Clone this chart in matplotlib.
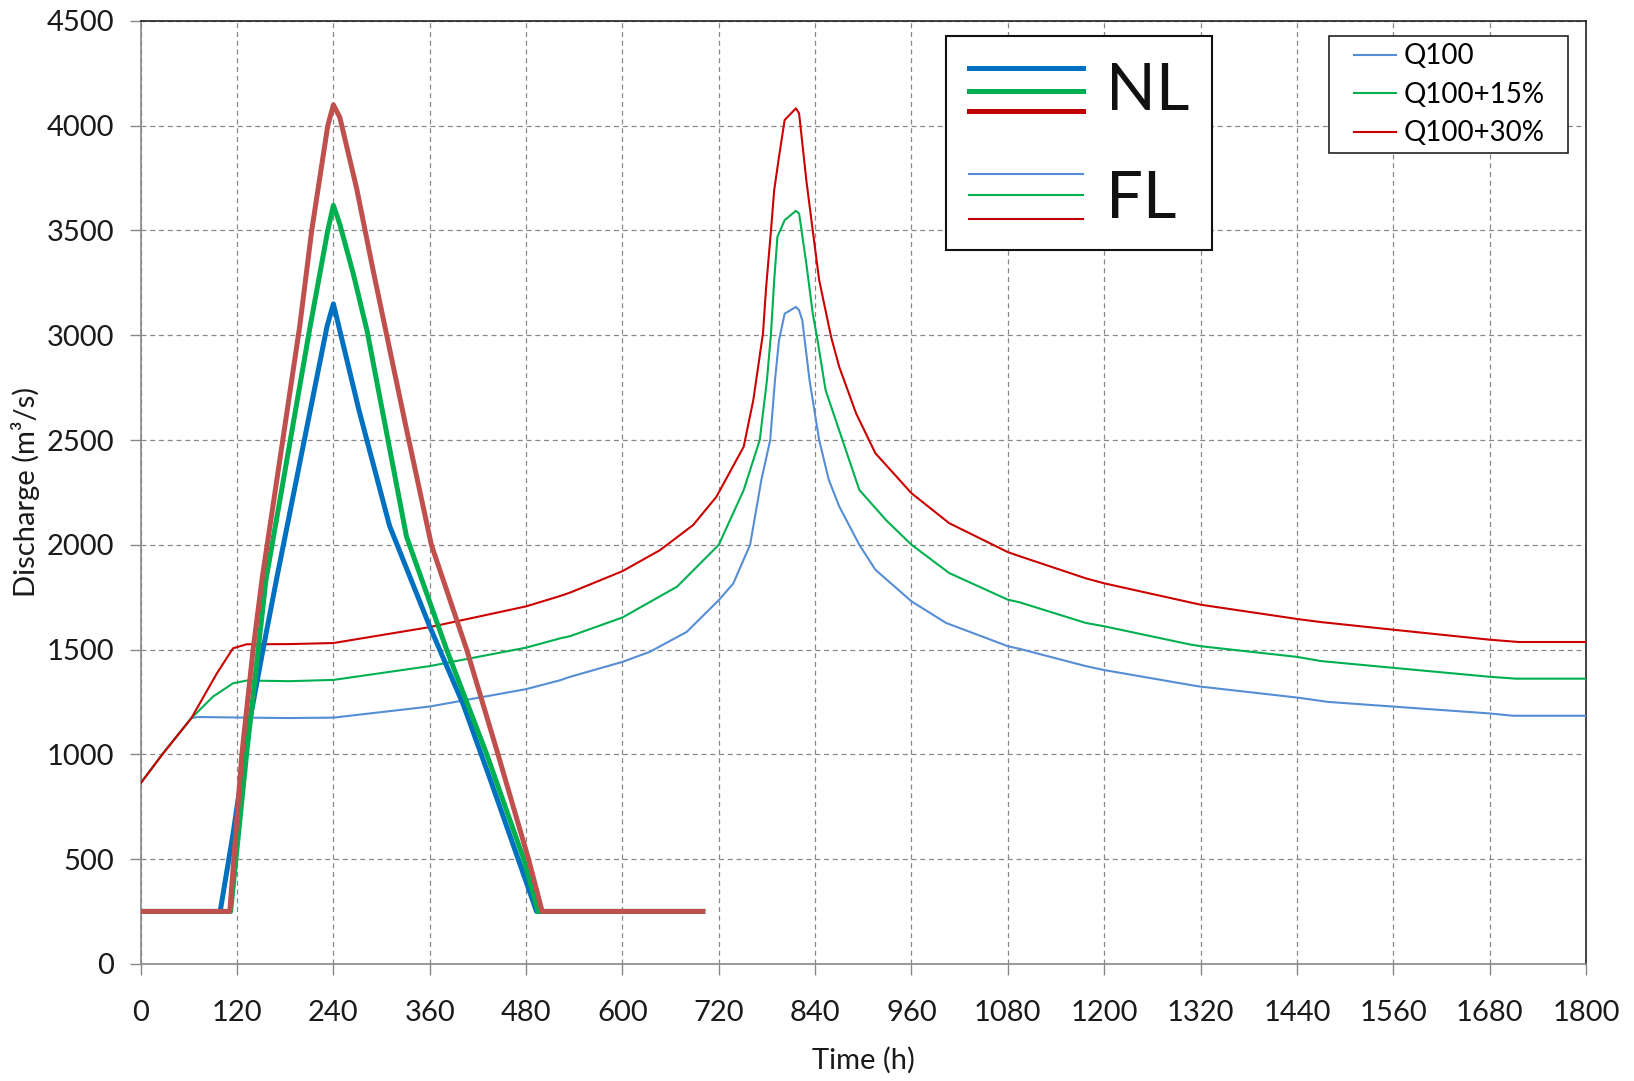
import matplotlib
matplotlib.use("Agg")
import matplotlib.pyplot as plt
from matplotlib.patches import Rectangle
from matplotlib.lines import Line2D
from matplotlib.legend_handler import HandlerLine2D
import numpy as np

plt.rcParams['font.family'] = ['Lato', 'DejaVu Sans']

# NL hydrographs (thick lines)
t_nl_q100 = [0, 99, 115, 136, 153, 169, 232, 240, 272, 310, 360, 402, 435, 493, 700]
q_nl_q100 = [250, 250, 620, 1163, 1513, 1832, 3041, 3150, 2640, 2090, 1610, 1235, 884, 250, 250]

t_nl_q115 = [0, 112, 132, 156, 211, 233, 240, 248, 265, 282, 305, 331, 381, 431, 477, 495, 700]
q_nl_q115 = [250, 250, 1005, 1832, 3041, 3500, 3620, 3530, 3290, 3020, 2560, 2040, 1500, 1000, 500, 250, 250]

t_nl_q130 = [0, 111, 126, 140, 151, 198, 213, 233, 240, 248, 269, 290, 330, 362, 406, 445, 483, 500, 700]
q_nl_q130 = [250, 250, 1000, 1500, 1832, 3041, 3500, 4000, 4100, 4040, 3700, 3300, 2570, 2000, 1500, 1000, 500, 250, 250]

# FL hydrographs (thin lines)
t_fl_q100 = [0, 28, 63, 71, 132, 185, 240, 360, 480, 522, 535, 600, 634, 680, 720, 738, 759, 773, 784, 790,
             795, 802, 816, 820, 824, 833, 845, 857, 870, 895, 915, 960, 1003, 1080, 1095, 1177, 1200, 1307,
             1320, 1440, 1479, 1559, 1680, 1709, 1800]
q_fl_q100 = [862, 1005, 1172, 1178, 1175, 1173, 1175, 1228, 1311, 1353, 1370, 1441, 1489, 1584, 1736, 1815, 2000,
             2309, 2500, 2787, 2976, 3103, 3135, 3120, 3071, 2786, 2500, 2310, 2183, 2000, 1881, 1730, 1627,
             1516, 1503, 1421, 1402, 1331, 1323, 1271, 1250, 1228, 1195, 1184, 1184]

t_fl_q115 = [0, 28, 63, 90, 115, 132, 185, 240, 360, 480, 522, 535, 600, 668, 720, 751, 771, 780, 785, 789,
             793, 802, 816, 820, 829, 837, 843, 853, 874, 895, 928, 960, 1007, 1080, 1095, 1177, 1200, 1307,
             1320, 1440, 1470, 1559, 1680, 1713, 1800]
q_fl_q115 = [862, 1005, 1172, 1275, 1339, 1352, 1349, 1355, 1421, 1509, 1553, 1564, 1653, 1800, 2000, 2261,
             2500, 2787, 3008, 3263, 3470, 3549, 3594, 3581, 3342, 3104, 2976, 2738, 2500, 2262, 2119, 2000,
             1865, 1738, 1725, 1627, 1611, 1524, 1516, 1465, 1445, 1413, 1370, 1361, 1361]

t_fl_q130 = [0, 28, 63, 95, 115, 132, 185, 240, 360, 480, 522, 535, 600, 647, 688, 717, 751, 763, 775, 779,
             785, 789, 795, 802, 816, 820, 829, 837, 845, 860, 870, 891, 915, 960, 1007, 1080, 1095, 1177,
             1200, 1307, 1320, 1440, 1470, 1559, 1680, 1716, 1800]
q_fl_q130 = [862, 1005, 1172, 1387, 1506, 1525, 1526, 1531, 1607, 1706, 1755, 1772, 1874, 1975, 2094, 2229,
             2468, 2691, 3008, 3231, 3500, 3693, 3852, 4027, 4083, 4059, 3740, 3500, 3263, 2990, 2849, 2627,
             2437, 2246, 2103, 1965, 1945, 1840, 1816, 1725, 1714, 1646, 1631, 1595, 1547, 1536, 1536]

labels = ["Q100", "Q100+15%", "Q100+30%"]
x_ticks = list(range(0, 1801, 120))
y_ticks = list(range(0, 4501, 500))

c_blue_nl, c_green_nl, c_red_nl, c_red_box = "#0070C0", "#00B050", "#C0504D", "#C00000"
c_blue_fl, c_green_fl, c_red_fl = "#558ED5", "#00B050", "#CC0000"


class ShortLine(HandlerLine2D):
    # legend line drawn only on the right part of the handle box
    def create_artists(self, legend, orig_handle, xdescent, ydescent, width, height, fontsize, trans):
        arts = super().create_artists(legend, orig_handle, xdescent, ydescent, width, height, fontsize, trans)
        xd = np.asarray(arts[0].get_xdata(), dtype=float)
        yd = np.asarray(arts[0].get_ydata(), dtype=float)
        x0 = xd[0] + 0.31 * (xd[-1] - xd[0])
        arts[0].set_data([x0, xd[-1]], [yd[0], yd[0]])
        return arts


fig = plt.figure(figsize=(16.34, 10.81), dpi=100)
ax = fig.add_axes([0.0861, 0.1084, 0.8845, 0.8722])

# thin FL lines first, thick NL on top
l1, = ax.plot(t_fl_q100, q_fl_q100, color=c_blue_fl, lw=1.5, label=labels[0], zorder=3)
l2, = ax.plot(t_fl_q115, q_fl_q115, color=c_green_fl, lw=1.5, label=labels[1], zorder=3)
l3, = ax.plot(t_fl_q130, q_fl_q130, color=c_red_fl, lw=1.5, label=labels[2], zorder=3)
ax.plot(t_nl_q100, q_nl_q100, color=c_blue_nl, lw=3.6, zorder=4, solid_joinstyle='round')
ax.plot(t_nl_q115, q_nl_q115, color=c_green_nl, lw=3.6, zorder=5, solid_joinstyle='round')
ax.plot(t_nl_q130, q_nl_q130, color=c_red_nl, lw=3.6, zorder=6, solid_joinstyle='round')

ax.set_xlim(0, 1800)
ax.set_ylim(0, 4500)
ax.set_xticks(x_ticks)
ax.set_yticks(y_ticks)
ax.tick_params(axis='both', labelsize=21, length=8, width=1, color='#888888', labelcolor='#1a1a1a')
ax.tick_params(axis='x', pad=18)
ax.tick_params(axis='y', pad=11)
ax.grid(True, color='#888888', lw=0.9, linestyle=(0, (4, 3)))
ax.set_axisbelow(True)
for s in ['left', 'bottom']:
    ax.spines[s].set_color('#888888')
    ax.spines[s].set_linewidth(1.2)
for s in ['top', 'right']:
    ax.spines[s].set_color('#222222')
    ax.spines[s].set_linewidth(1.2)

ax.set_xlabel("Time (h)", fontsize=21, labelpad=15, color='#1a1a1a')
ax.set_ylabel("Discharge (m³/s)", fontsize=21, labelpad=5, color='#1a1a1a')

leg = ax.legend(handles=[l1, l2, l3], loc='upper left', bbox_to_anchor=(0.822, 0.9836 - 0.2, 0.1658, 0.2),
                mode='expand', handler_map={Line2D: ShortLine()},
                fontsize=20, frameon=True, fancybox=False, framealpha=1, edgecolor='#222222',
                handlelength=2.17, handletextpad=0.26, labelspacing=0.45, borderpad=0.25, borderaxespad=0)
leg.get_frame().set_linewidth(1.2)
leg.set_zorder(10)

# NL / FL key box
ax.add_patch(Rectangle((0.557, 0.757), 0.184, 0.2266, transform=ax.transAxes,
                       facecolor='white', edgecolor='#111111', lw=1.5, zorder=10))
for y, c in zip([0.9505, 0.926, 0.904], [c_blue_nl, c_green_nl, c_red_box]):
    ax.add_line(Line2D([0.573, 0.652], [y, y], transform=ax.transAxes, color=c, lw=3.6, zorder=11))
for y, c in zip([0.838, 0.815, 0.790], [c_blue_fl, c_green_fl, c_red_box]):
    ax.add_line(Line2D([0.573, 0.652], [y, y], transform=ax.transAxes, color=c, lw=1.5, zorder=11))
ax.text(0.668, 0.925, "NL", transform=ax.transAxes, fontsize=47, va='center', ha='left', color='#111111', zorder=12)
ax.text(0.668, 0.811, "FL", transform=ax.transAxes, fontsize=47, va='center', ha='left', color='#111111', zorder=12)

plt.savefig("out.png", dpi=100)
